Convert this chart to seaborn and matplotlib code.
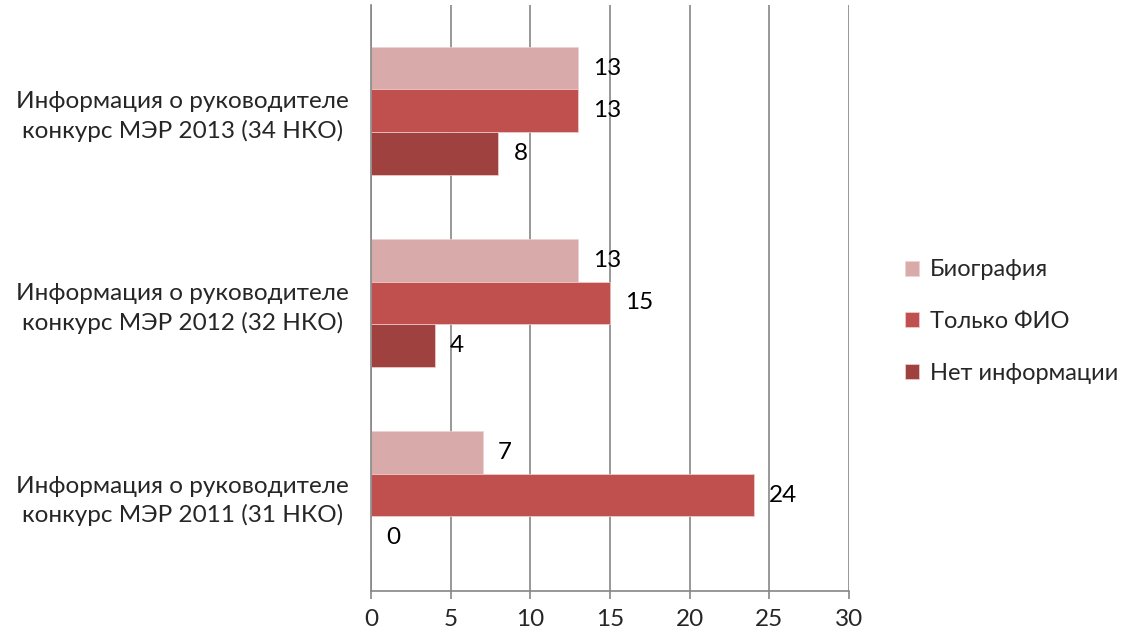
import pandas as pd
import seaborn as sns
import matplotlib.pyplot as plt

# Данные
kategorii = ["Информация о руководителе\nконкурс МЭР 2013 (34 НКО)",
             "Информация о руководителе\nконкурс МЭР 2012 (32 НКО)",
             "Информация о руководителе\nконкурс МЭР 2011 (31 НКО)"]
serii = ["Биография", "Только ФИО", "Нет информации"]
biografiya = [13, 13, 7]
tolko_fio = [13, 15, 24]
net_info = [8, 4, 0]
xticks = [0, 5, 10, 15, 20, 25, 30]

df = pd.DataFrame({
    "kat": kategorii * 3,
    "seriya": [serii[0]] * 3 + [serii[1]] * 3 + [serii[2]] * 3,
    "value": biografiya + tolko_fio + net_info,
})

sns.set_style("white")
plt.rcParams['font.family'] = ['Lato', 'DejaVu Sans']

fig = plt.figure(figsize=(11.24, 6.37), dpi=100)
ax = fig.add_axes([0.330, 0.072, 0.4255, 0.920])

cveta = ["#D9AAAA", "#C0504D", "#9E413F"]
sns.barplot(data=df, y="kat", x="value", hue="seriya", hue_order=serii,
            order=kategorii, palette=cveta, orient="h", width=0.667,
            saturation=1, edgecolor="#F0D0D0", linewidth=0.5, ax=ax)

for cont in ax.containers:
    ax.bar_label(cont, padding=11, fontsize=17.5, color="black")

ax.set_xlim(0, 30)
ax.set_ylim(2.5, -0.55)
ax.set_xticks(xticks)
ax.set_xticklabels([str(t) for t in xticks], fontsize=17.5)
ax.tick_params(axis="x", bottom=True, length=6, width=1.2, color="#868686",
               direction="out", pad=7)
ax.tick_params(axis="y", left=False, length=0, pad=16, labelsize=17.5)
for lab in ax.get_yticklabels():
    lab.set_multialignment("center")
    lab.set_linespacing(1.4)
ax.grid(axis="x", color="#868686", linewidth=1.2)
ax.set_axisbelow(True)
for s in ["top", "right"]:
    ax.spines[s].set_visible(False)
for s in ["bottom", "left"]:
    ax.spines[s].set_color("#868686")
    ax.spines[s].set_linewidth(1.2)
ax.set_xlabel("")
ax.set_ylabel("")

ax.legend(loc="center left", bbox_to_anchor=(0.786, 0.495), bbox_transform=fig.transFigure,
          frameon=False, fontsize=17, handlelength=0.6, handleheight=0.6,
          handletextpad=0.45, labelspacing=1.3)

plt.savefig("out.png", dpi=100)
